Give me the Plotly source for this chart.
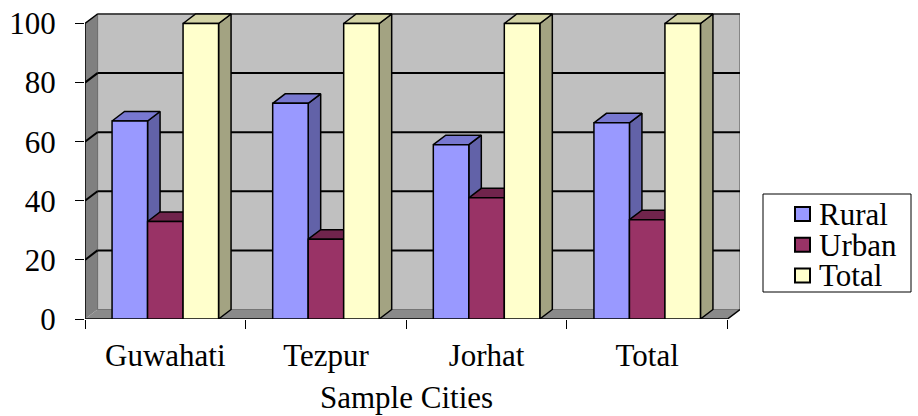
import plotly.graph_objects as go

# ---- data -------------------------------------------------------------
cities = ["Guwahati", "Tezpur", "Jorhat", "Total"]
rural = [67, 73, 59, 66.4]
urban = [33, 27, 41, 33.6]
total = [100, 100, 100, 100]
y_ticks = [0, 20, 40, 60, 80, 100]
series_names = ["Rural", "Urban", "Total"]

# ---- page geometry ------------------------------------------------------
W, H = 918, 416
ML, MR, MT, MB = 85, 178, 11, 97
PW, PH = W - ML - MR, H - MT - MB

DEPTH_PX_X, DEPTH_PX_Y = 12.5, 9.5          # oblique depth of the 3-D box
X_UNITS = 4 / (1 - DEPTH_PX_X / PW)          # category span incl. depth
DX = X_UNITS - 4
PX_PER_X = PW / X_UNITS
PX_PER_Y = (MT + PH - 23.5) / 100            # value 100 sits 23.5px from the top
Y_TOP = PH / PX_PER_Y
DY = DEPTH_PX_Y / PX_PER_Y

X0, X1 = -0.5, 3.5
BAR_W = 35.5 / PX_PER_X
OFFSETS = [-1.5 * BAR_W + k * BAR_W for k in range(3)]

FONT = "Liberation Serif"
FS = 31

styles = [
    # front, side, top
    ("#9999FF", "#6262A8", "#7878D0"),
    ("#993366", "#6E2248", "#70244C"),
    ("#FFFFCC", "#A3A382", "#D4D4A6"),
]
values = [rural, urban, total]

fig = go.Figure()


def poly(xs, ys, fill, z):
    fig.add_trace(go.Scatter(
        x=xs + [xs[0]], y=ys + [ys[0]], mode="lines", fill="toself",
        fillcolor=fill, line=dict(color="black", width=1.5),
        hoverinfo="skip", showlegend=False, zorder=z,
    ))


idx = list(range(len(cities)))
for k, (vals, name, (c_front, c_side, c_top)) in enumerate(zip(values, series_names, styles)):
    z = 2 * k + 1
    for i, v in enumerate(vals):
        a = i + OFFSETS[k]
        b = a + BAR_W
        # right-hand face
        poly([b, b, b + DX, b + DX], [0, v, v + DY, DY], c_side, z)
        # top face
        poly([a, b, b + DX, a + DX], [v, v, v + DY, v + DY], c_top, z)
    fig.add_trace(go.Bar(
        x=idx, y=vals, name=name, width=BAR_W, offset=OFFSETS[k],
        marker=dict(color=c_front, line=dict(color="black", width=1.5)),
        zorder=z + 1, showlegend=False,
    ))

# ---- walls, floor and gridlines of the 3-D box -----------------------------
shapes = []


def path(pts):
    return "M " + " L ".join(f"{x},{y}" for x, y in pts) + " Z"


def seg(xa, ya, xb, yb, color="black", width=1.5):
    shapes.append(dict(type="line", xref="x", yref="y", layer="below",
                       x0=xa, x1=xb, y0=ya, y1=yb, line=dict(color=color, width=width)))


# back wall
shapes.append(dict(type="path", xref="x", yref="y", layer="below",
                   path=path([(X0 + DX, DY), (X1 + DX, DY), (X1 + DX, 100 + DY), (X0 + DX, 100 + DY)]),
                   fillcolor="#C0C0C0", line=dict(color="#606060", width=1.2)))
# left side wall
shapes.append(dict(type="path", xref="x", yref="y", layer="below",
                   path=path([(X0, 0), (X0, 100), (X0 + DX, 100 + DY), (X0 + DX, DY)]),
                   fillcolor="#808080", line=dict(width=0)))
# floor
shapes.append(dict(type="path", xref="x", yref="y", layer="below",
                   path=path([(X0, 0), (X1, 0), (X1 + DX, DY), (X0 + DX, DY)]),
                   fillcolor="#8A8A8A", line=dict(width=0)))
# gridlines on the back wall and the side wall
for t in y_ticks[1:-1]:
    seg(X0 + DX, t + DY, X1 + DX, t + DY, width=2)
    seg(X0, t, X0 + DX, t + DY, width=2)
# box edges
seg(X0 + DX, 100 + DY, X1 + DX, 100 + DY, color="#303030", width=1.5)
seg(X0, 100, X0 + DX, 100 + DY)
seg(X0, 0, X0, 100)
seg(X0, 0, X1, 0)
seg(X1, 0, X1 + DX, DY)


# ---- legend box --------------------------------------------------------
def px_x(p):
    return (p - ML) / PW


def px_y(p):
    return (MT + PH - p) / PH


annotations = []
shapes.append(dict(type="rect", xref="paper", yref="paper",
                   x0=px_x(763), x1=px_x(911), y0=px_y(292), y1=px_y(194),
                   fillcolor="white", line=dict(color="black", width=1)))
for k, (name, (c_front, _, _)) in enumerate(zip(series_names, styles)):
    cy = 214 + 30.7 * k
    shapes.append(dict(type="rect", xref="paper", yref="paper",
                       x0=px_x(795), x1=px_x(810), y0=px_y(cy + 7), y1=px_y(cy - 7),
                       fillcolor=c_front, line=dict(color="black", width=2)))
    annotations.append(dict(xref="paper", yref="paper", x=px_x(817), y=px_y(cy),
                            xanchor="left", yanchor="middle", showarrow=False,
                            height=30, text=name,
                            font=dict(family=FONT, size=FS, color="black")))

# x axis title
annotations.append(dict(xref="x", yref="paper", x=1.5, y=px_y(397), xanchor="center",
                        yanchor="middle", showarrow=False, text="Sample Cities",
                        font=dict(family=FONT, size=FS, color="black")))

fig.update_layout(
    width=W, height=H, margin=dict(l=ML, r=MR, t=MT, b=MB, pad=0, autoexpand=False),
    paper_bgcolor="white", plot_bgcolor="white",
    barmode="overlay", showlegend=False,
    font=dict(family=FONT, size=FS, color="black"),
    shapes=shapes, annotations=annotations,
    xaxis=dict(range=[X0, X1 + DX], tickmode="array", tickvals=idx, ticktext=cities,
               ticks="", showgrid=False, zeroline=False, showline=False,
               ticklabelstandoff=15, automargin=False,
               tickfont=dict(family=FONT, size=FS, color="black"),
               minor=dict(ticks="outside", ticklen=9, tickcolor="black", tickwidth=1,
                          tickmode="linear", tick0=-0.5, dtick=1, showgrid=False),
               fixedrange=True),
    yaxis=dict(range=[0, Y_TOP], tickmode="array", tickvals=y_ticks,
               ticks="outside", ticklen=9, tickcolor="black", tickwidth=1,
               showgrid=False, zeroline=False, showline=False, automargin=False,
               tickfont=dict(family=FONT, size=FS, color="black"),
               ticklabelstandoff=13, fixedrange=True),
)

fig.write_html("out.html")
